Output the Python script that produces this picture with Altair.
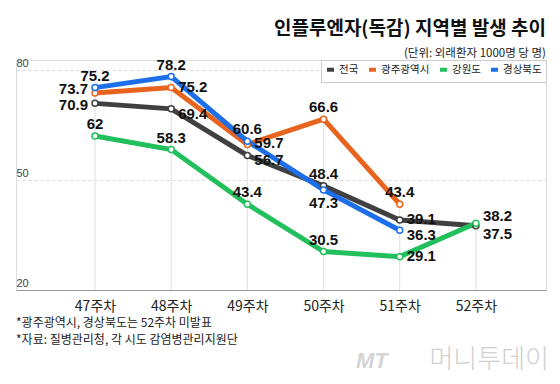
import altair as alt
import pandas as pd

# ---- data ----
weeks = [47, 48, 49, 50, 51, 52]
series_names = ["전국", "광주광역시", "강원도", "경상북도"]
national = [70.9, 69.4, 56.7, 48.4, 39.1, 37.5]
gwangju = [73.7, 75.2, 59.7, 66.6, 43.4, None]
gangwon = [62.0, 58.3, 43.4, 30.5, 29.1, 38.2]
gyeongbuk = [75.2, 78.2, 60.6, 47.3, 36.3, None]
y_ticks = [20, 50, 80]
x_tick_suffix = "주차"

title_text = "인플루엔자(독감) 지역별 발생 추이"
subtitle_text = "(단위: 외래환자 1000명 당 명)"
footnotes = ["*광주광역시, 경상북도는 52주차 미발표", "*자료: 질병관리청, 각 시도 감염병관리지원단"]
watermark_logo = "MT"
watermark_name = "머니투데이"

# ---- styles ----
colors = ["#404040", "#e8641e", "#22c05c", "#1c6fe8"]
label_place = {
    "전국": ["left", "right_down", "right_down", "top", "right", "right_down2"],
    "광주광역시": ["left_up", "right", "right", "top", "top", None],
    "강원도": ["top", "top", "top", "top", "right", "right_up"],
    "경상북도": ["top", "top", "top", "bottom", "right_down", None],
}
place_style = {
    "top": dict(align="center", dx=0, dy=-12),
    "bottom": dict(align="center", dx=0, dy=13),
    "left": dict(align="right", dx=-7, dy=2),
    "left_up": dict(align="right", dx=-7, dy=-4),
    "right": dict(align="left", dx=7, dy=-1),
    "right_down": dict(align="left", dx=7, dy=5),
    "right_down2": dict(align="left", dx=7, dy=8),
    "right_up": dict(align="left", dx=7, dy=-7),
}

KFONT = "Noto Sans CJK KR"
NFONT = "Liberation Sans"

rows = []
for name, vals in zip(series_names, [national, gwangju, gangwon, gyeongbuk]):
    for i, (w, v) in enumerate(zip(weeks, vals)):
        if v is None:
            continue
        rows.append({"week": w, "series": name, "value": v,
                     "label": f"{v:g}", "place": label_place[name][i]})
df = pd.DataFrame(rows)

x_scale = alt.Scale(domain=[45.963, 52.92], nice=False, zero=False)
y_scale = alt.Scale(domain=[20, 82.73], nice=False, zero=False)

x_enc = alt.X("week:Q", scale=x_scale,
              axis=alt.Axis(values=weeks, labelExpr=f"datum.value + '{x_tick_suffix}'",
                            ticks=False, grid=False, title=None, domainColor="#999",
                            labelFont=KFONT, labelFontSize=14, labelColor="#222",
                            labelPadding=9))
y_enc = alt.Y("value:Q", scale=y_scale,
              axis=alt.Axis(values=y_ticks, grid=True, gridDash=[3, 3], gridColor="#d8d8d8",
                            ticks=False, domain=False, title=None, labelAlign="left",
                            labelBaseline="bottom", labelPadding=0, labelOffset=-2,
                            labelFont="Liberation Sans", labelFontSize=11, labelColor="#444"))

base = alt.Chart(df)

vrules = base.mark_rule(color="#dedede", strokeWidth=1).encode(
    x=alt.X("week:Q", scale=x_scale),
    y=alt.Y("max(value):Q", scale=y_scale),
    y2=alt.datum(20),
)

lines = base.mark_line(strokeWidth=5).encode(
    x=x_enc, y=y_enc,
    color=alt.Color("series:N", scale=alt.Scale(domain=series_names, range=colors),
                    sort=series_names,
                    legend=alt.Legend(title=None, orient="none", legendX=305, legendY=0,
                                      direction="horizontal", symbolType="stroke",
                                      symbolStrokeWidth=4, symbolSize=49,
                                      labelFont=KFONT, labelFontSize=10.5, labelColor="#222",
                                      strokeColor="#cccccc", fillColor="white",
                                      padding=4, columnPadding=2, labelOffset=3)),
    detail="series:N",
)

points = base.mark_point(filled=False, fill="white", fillOpacity=1, size=36,
                         strokeWidth=1.5, opacity=1).encode(
    x=alt.X("week:Q", scale=x_scale),
    y=alt.Y("value:Q", scale=y_scale),
    stroke=alt.Stroke("series:N", scale=alt.Scale(domain=series_names, range=colors),
                      legend=None),
)

label_layers = []
for p, st in place_style.items():
    label_layers.append(
        base.transform_filter(alt.datum.place == p).mark_text(
            font=NFONT, fontSize=15, fontWeight="bold", color="#111",
            baseline="middle", **st
        ).encode(
            x=alt.X("week:Q", scale=x_scale),
            y=alt.Y("value:Q", scale=y_scale),
            text="label:N",
        )
    )

one = pd.DataFrame({"a": [0]})
notes = []
for i, t in enumerate(footnotes):
    notes.append(alt.Chart(one).mark_text(text=t, font=KFONT, fontSize=12, color="#222",
                                          align="left", baseline="middle").encode(
        x=alt.value(0), y=alt.value(263 + 17 * i)))
wm1 = alt.Chart(one).mark_text(text=watermark_logo, font="Liberation Sans", fontSize=22,
                               fontStyle="italic", fontWeight="bold", color="#d4d4d4",
                               align="left", baseline="middle").encode(
    x=alt.value(340), y=alt.value(301))
wm2 = alt.Chart(one).mark_text(text=watermark_name, font=KFONT, fontSize=26,
                               fontWeight=300, color="#d0d0d0",
                               align="right", baseline="middle").encode(
    x=alt.value(533), y=alt.value(300))

chart = alt.layer(vrules, lines, points, *label_layers, *notes, wm1, wm2).properties(
    width=530, height=230,
    title=alt.TitleParams(text=title_text, subtitle=subtitle_text, anchor="end", frame="group",
                          font=KFONT, fontSize=19, fontWeight="bold", color="#111",
                          subtitleFont=KFONT, subtitleFontSize=11.5, subtitleColor="#222",
                          offset=-2, subtitlePadding=9),
    padding={"left": 8, "top": 52, "right": 6, "bottom": 86},
    autosize="none",
).configure_view(stroke=None).configure(background="white")

chart.save("out.html", embed_options={"renderer": "svg", "actions": False})
